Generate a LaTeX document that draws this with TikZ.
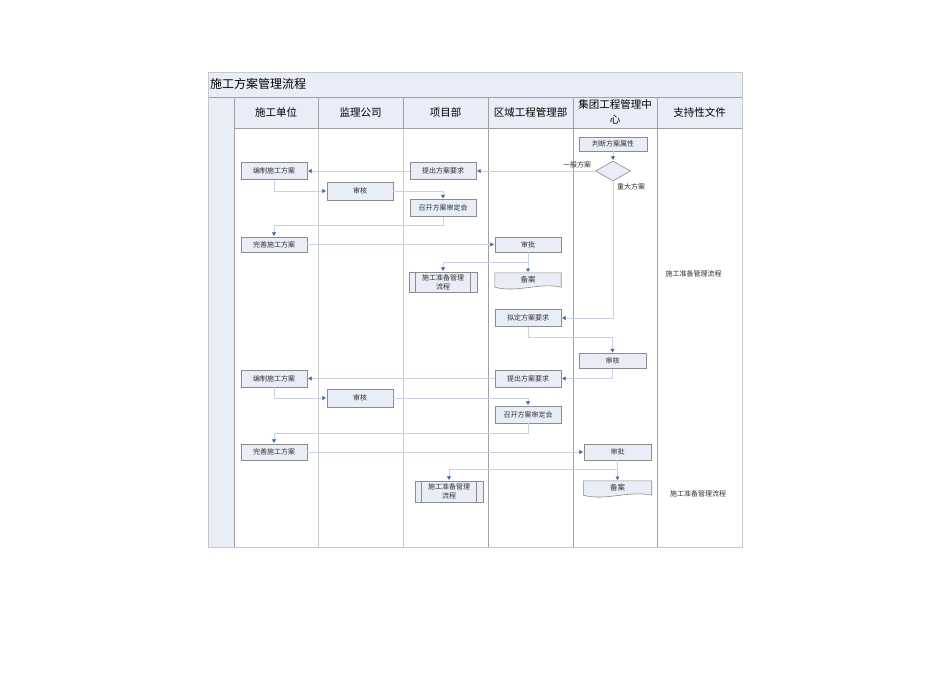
\documentclass[tikz,border=0pt]{standalone}
\usepackage{fontspec}
\setmainfont{Noto Sans CJK SC}
\usetikzlibrary{arrows.meta,calc,shapes.geometric}
\definecolor{fillc}{RGB}{232,237,247}
\definecolor{boxb}{RGB}{140,140,140}
\definecolor{linec}{RGB}{200,210,228}
\definecolor{arrc}{RGB}{70,105,165}
\definecolor{gridc}{RGB}{160,160,160}
\definecolor{gridl}{RGB}{200,200,200}
\definecolor{txtc}{RGB}{50,50,50}
\begin{document}
\begin{tikzpicture}[x=1pt,y=-1pt,
  box/.style={draw=boxb,fill=fillc,line width=0.6pt,minimum width=66pt,minimum height=17pt,inner sep=0pt,font=\fontsize{7}{9}\selectfont,align=center,text=txtc},
  docshape/.style={draw=boxb,fill=fillc,line width=0.6pt},
  txt/.style={inner sep=0pt,font=\fontsize{7}{9}\selectfont,text=txtc},
  head/.style={inner sep=0pt,font=\fontsize{10.5}{15}\selectfont,align=center},
  conn/.style={draw=linec,line width=0.6pt,-{Triangle[width=4pt,length=3.5pt,color=arrc]},shorten >=0.8pt},
  plain/.style={draw=linec,line width=0.6pt}]
\useasboundingbox (0,0) rectangle (950,672);
\fill[white] (0,0) rectangle (950,672);
% pool
\fill[fillc] (208,72) rectangle (742,97);
\fill[fillc] (208,97) rectangle (234,547);
\fill[fillc] (234,97) rectangle (742,128);
\foreach \x in {318,403}{\draw[gridl,line width=0.6pt] (\x,128) -- (\x,547);}
\foreach \x in {488,573,657}{\draw[gridc,line width=0.6pt] (\x,128) -- (\x,547);}
\foreach \x in {318,403,488,573,657}{\draw[gridc,line width=0.6pt] (\x,97) -- (\x,128);}
\draw[gridc,line width=0.6pt] (234,97) -- (234,547);
\draw[gridc,line width=0.6pt] (208,97) -- (742,97);
\draw[gridc,line width=0.6pt] (234,128) -- (742,128);
\draw[gridl,line width=0.8pt] (208,72) rectangle (742,547);
\node[anchor=west,inner sep=0pt,font=\fontsize{12}{14}\selectfont] (title) at (210,84) {施工方案管理流程};
\node[head] (h1) at (276,112) {施工单位};
\node[head] (h2) at (360.5,112) {监理公司};
\node[head] (h3) at (445.5,112) {项目部};
\node[head] (h4) at (530.5,112) {区域工程管理部};
\node[head] (h5) at (615,112) {集团工程管理中\\心};
\node[head] (h6) at (699.5,112) {支持性文件};
% nodes
\node[box] (n1) at (274,171) {编制施工方案};
\node[box] (n2) at (443,171) {提出方案要求};
\node[box,minimum height=18pt] (n3) at (360,191) {审核};
\node[box] (n4) at (443,208) {召开方案审定会};
\node[box,minimum width=68pt,minimum height=14pt] (n5) at (613,144) {判断方案属性};
\node[diamond,draw=boxb,fill=fillc,line width=0.6pt,minimum width=35pt,minimum height=20pt,aspect=1.75,inner sep=0pt] (d) at (613,171) {};
\node[box,minimum height=15pt] (n7) at (274,244.5) {完善施工方案};
\node[box,minimum height=15pt] (n8) at (528,244.5) {审批};
\node[txt,minimum width=66pt,minimum height=14pt,font=\fontsize{7.5}{9}\selectfont] (n9) at (528,280) {};
\node[box,minimum width=68pt,minimum height=20pt] (n10) at (443,282) {施工准备管理\\流程};
\node[box] (n11) at (528,318) {拟定方案要求};
\node[box,minimum width=67pt,minimum height=15pt] (n12) at (612.5,361) {审核};
\node[box] (n13) at (528,378.5) {提出方案要求};
\node[box] (n14) at (274,378.5) {编制施工方案};
\node[box,minimum height=18pt] (n15) at (360,398) {审核};
\node[box] (n16) at (528,414.5) {召开方案审定会};
\node[box,minimum height=16pt] (n17) at (274,452) {完善施工方案};
\node[box,minimum width=67pt,minimum height=16pt] (n18) at (617.5,452) {审批};
\node[txt,minimum width=68pt,minimum height=14pt,font=\fontsize{7.5}{9}\selectfont] (n19) at (617.5,488) {};
\node[box,minimum width=68pt,minimum height=21pt] (n20) at (449,491.5) {施工准备管理\\流程};
\node[txt] (t1) at (693.5,274) {施工准备管理流程};
\node[txt] (t2) at (698,494) {施工准备管理流程};
% document shapes
\draw[docshape] (n9.south west) -- (n9.north west) -- (n9.north east) -- (n9.south east)
  .. controls ($(n9.south east)+(-22,-5)$) and ($(n9.south west)+(22,6)$) .. (n9.south west) -- cycle;
\node[txt,font=\fontsize{7.5}{9}\selectfont] (n9t) at (n9.center) {备案};
\draw[docshape] (n19.south west) -- (n19.north west) -- (n19.north east) -- (n19.south east)
  .. controls ($(n19.south east)+(-22,-5)$) and ($(n19.south west)+(22,6)$) .. (n19.south west) -- cycle;
\node[txt,font=\fontsize{7.5}{9}\selectfont] (n19t) at (n19.center) {备案};
% predefined process inner lines
\foreach \n in {n10,n20}{
  \draw[boxb,line width=0.6pt] ($(\n.north west)+(7,0)$) -- ($(\n.south west)+(7,0)$);
  \draw[boxb,line width=0.6pt] ($(\n.north east)+(-7,0)$) -- ($(\n.south east)+(-7,0)$);
}
% junction coordinates
\coordinate (j1) at (443,225);
\coordinate (j2) at (528,262);
\coordinate (j3) at (528,337);
\coordinate (j4) at (528,433);
\coordinate (j5) at (617.5,469);
% connectors
\draw[conn] (n5.south) -- (d.north);
\draw[conn] (d.west) -- (n2.east);
\node[txt] (l1) at (577,165) {一般方案};
\draw[conn] (n2.west) -- (n1.east);
\draw[conn] (n1.south) |- (n3.west);
\draw[conn] (n3.east) -| (n4.north);
\draw[conn] (n4.south) -- (j1) -| (n7.north);
\draw[conn] (n7.east) -- (n8.west);
\draw[conn] (n8.south) -- (n9.north);
\draw[conn] (j2) -| (n10.north);
\draw[conn] (d.south) |- (n11.east);
\node[txt] (l2) at (631,187) {重大方案};
\draw[conn] (n11.south) -- (j3) -| (n12.north);
\draw[conn] (n12.south) |- (n13.east);
\draw[conn] (n13.west) -- (n14.east);
\draw[conn] (n14.south) |- (n15.west);
\draw[conn] (n15.east) -| (n16.north);
\draw[conn] (n16.south) -- (j4) -| (n17.north);
\draw[conn] (n17.east) -- (n18.west);
\draw[conn] (n18.south) -- (n19.north);
\draw[conn] (j5) -| (n20.north);
\end{tikzpicture}
\end{document}
